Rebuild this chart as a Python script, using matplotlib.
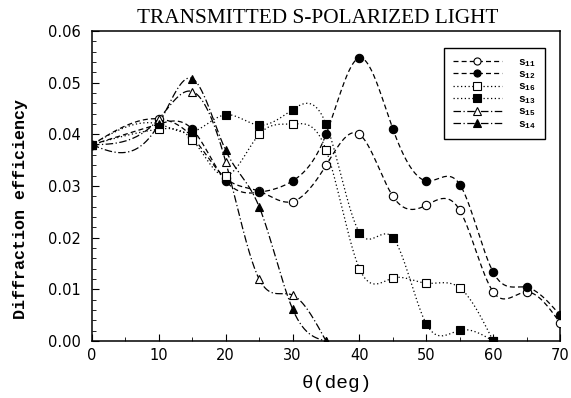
import numpy as np
import matplotlib
matplotlib.use("Agg")
import matplotlib.pyplot as plt
from matplotlib.lines import Line2D

plt.rcParams['mathtext.fontset'] = 'custom'
plt.rcParams['mathtext.rm'] = 'Liberation Mono'
plt.rcParams['mathtext.bf'] = 'Liberation Mono:bold'

# ---- data ----
theta_long = [0, 10, 15, 20, 25, 30, 35, 40, 45, 50, 55, 60, 65, 70]
s11 = [0.038, 0.043, 0.0395, 0.0315, 0.029, 0.027, 0.034, 0.040, 0.028, 0.0263, 0.0253, 0.0095, 0.0095, 0.0035]
s12 = [0.038, 0.042, 0.041, 0.031, 0.0288, 0.031, 0.040, 0.0548, 0.041, 0.031, 0.0303, 0.0133, 0.0104, 0.005]

theta_mid = [0, 10, 15, 20, 25, 30, 35, 40, 45, 50, 55, 60]
s16 = [0.038, 0.041, 0.039, 0.032, 0.040, 0.042, 0.037, 0.014, 0.0122, 0.0112, 0.0103, 0.0]
s13 = [0.038, 0.042, 0.0405, 0.0438, 0.0418, 0.0448, 0.042, 0.021, 0.020, 0.0033, 0.0021, 0.0]

theta_short = [0, 10, 15, 20, 25, 30, 35]
s15 = [0.038, 0.043, 0.0483, 0.0347, 0.012, 0.0089, 0.0]
s14 = [0.038, 0.042, 0.0508, 0.0369, 0.026, 0.0062, 0.0]

labels = [r'$\mathbf{s_{11}}$', r'$\mathbf{s_{12}}$', r'$\mathbf{s_{16}}$',
          r'$\mathbf{s_{13}}$', r'$\mathbf{s_{15}}$', r'$\mathbf{s_{14}}$']
x_ticks = [0, 10, 20, 30, 40, 50, 60, 70]
y_ticks = [0.00, 0.01, 0.02, 0.03, 0.04, 0.05, 0.06]


def natural_spline(x, y, n=400):
    x = np.asarray(x, float)
    y = np.asarray(y, float)
    m = len(x)
    h = np.diff(x)
    A = np.zeros((m, m))
    b = np.zeros(m)
    A[0, 0] = 1
    A[-1, -1] = 1
    for i in range(1, m - 1):
        A[i, i - 1] = h[i - 1]
        A[i, i] = 2 * (h[i - 1] + h[i])
        A[i, i + 1] = h[i]
        b[i] = 6 * ((y[i + 1] - y[i]) / h[i] - (y[i] - y[i - 1]) / h[i - 1])
    M = np.linalg.solve(A, b)
    xs = np.linspace(x[0], x[-1], n)
    idx = np.clip(np.searchsorted(x, xs) - 1, 0, m - 2)
    x0, x1 = x[idx], x[idx + 1]
    hh = x1 - x0
    ys = (M[idx] * (x1 - xs) ** 3 / (6 * hh) + M[idx + 1] * (xs - x0) ** 3 / (6 * hh)
          + (y[idx] / hh - M[idx] * hh / 6) * (x1 - xs)
          + (y[idx + 1] / hh - M[idx + 1] * hh / 6) * (xs - x0))
    return xs, ys


fig = plt.figure(figsize=(5.71, 3.98), dpi=100)
ax = fig.add_axes([0.161, 0.143, 0.820, 0.779])

dash = (0, (4, 2.5))
dot = (0, (1, 2))
dashdot = (0, (6, 2, 1, 2))

series = [
    (theta_long, s11, dash, 'o', 'white'),
    (theta_long, s12, dash, 'o', 'black'),
    (theta_mid, s16, dot, 's', 'white'),
    (theta_mid, s13, dot, 's', 'black'),
    (theta_short, s15, dashdot, '^', 'white'),
    (theta_short, s14, dashdot, '^', 'black'),
]

handles = []
for (x, y, ls, mk, fc), lab in zip(series, labels):
    xs, ys = natural_spline(x, y)
    ax.plot(xs, ys, color='black', lw=0.9, linestyle=ls)
    ax.plot(x, y, linestyle='none', marker=mk, markersize=6, markerfacecolor=fc,
            markeredgecolor='black', markeredgewidth=0.8, zorder=3)
    handles.append(Line2D([0], [0], color='black', lw=0.9, linestyle=ls, marker=mk,
                          markersize=6, markerfacecolor=fc, markeredgecolor='black',
                          markeredgewidth=0.8, label=lab))

ax.set_xlim(0, 70)
ax.set_ylim(0, 0.06)
ax.set_xticks(x_ticks)
ax.set_yticks(y_ticks)
ax.set_xticklabels([str(v) for v in x_ticks])
ax.set_yticklabels(['%.2f' % v for v in y_ticks])
ax.set_xticks(np.arange(0, 71, 5), minor=True)
ax.set_yticks(np.arange(0, 0.0601, 0.002), minor=True)
ax.tick_params(which='both', direction='in', top=False, right=False,
               labelsize=10.5)
ax.tick_params(axis='y', pad=8)
ax.tick_params(axis='x', pad=5)
ax.tick_params(which='major', length=5)
ax.tick_params(which='minor', length=3)
for sp in ax.spines.values():
    sp.set_linewidth(1.1)

ax.set_title('TRANSMITTED S-POLARIZED LIGHT', family='Liberation Serif',
             fontsize=15.3, pad=6, x=0.482)
ax.set_ylabel('Diffraction efficiency', family=['Liberation Mono', 'DejaVu Sans'],
              fontweight='bold', fontsize=12, labelpad=7)
ax.yaxis.set_label_coords(-0.137, 0.426)
ax.set_xlabel('θ(deg)', family=['Liberation Mono', 'DejaVu Sans'],
              fontsize=14, labelpad=6)
ax.xaxis.set_label_coords(0.523, -0.108)

leg = ax.legend(handles=handles, loc='upper right', bbox_to_anchor=(0.968, 0.945),
                borderaxespad=0, fancybox=False, edgecolor='black', framealpha=1,
                fontsize=8, handlelength=4.4, labelspacing=0.05, borderpad=0.8,
                handletextpad=1.5, numpoints=1, markerscale=0.85)
leg.get_frame().set_linewidth(1.0)

fig.savefig('out.png', dpi=100)
